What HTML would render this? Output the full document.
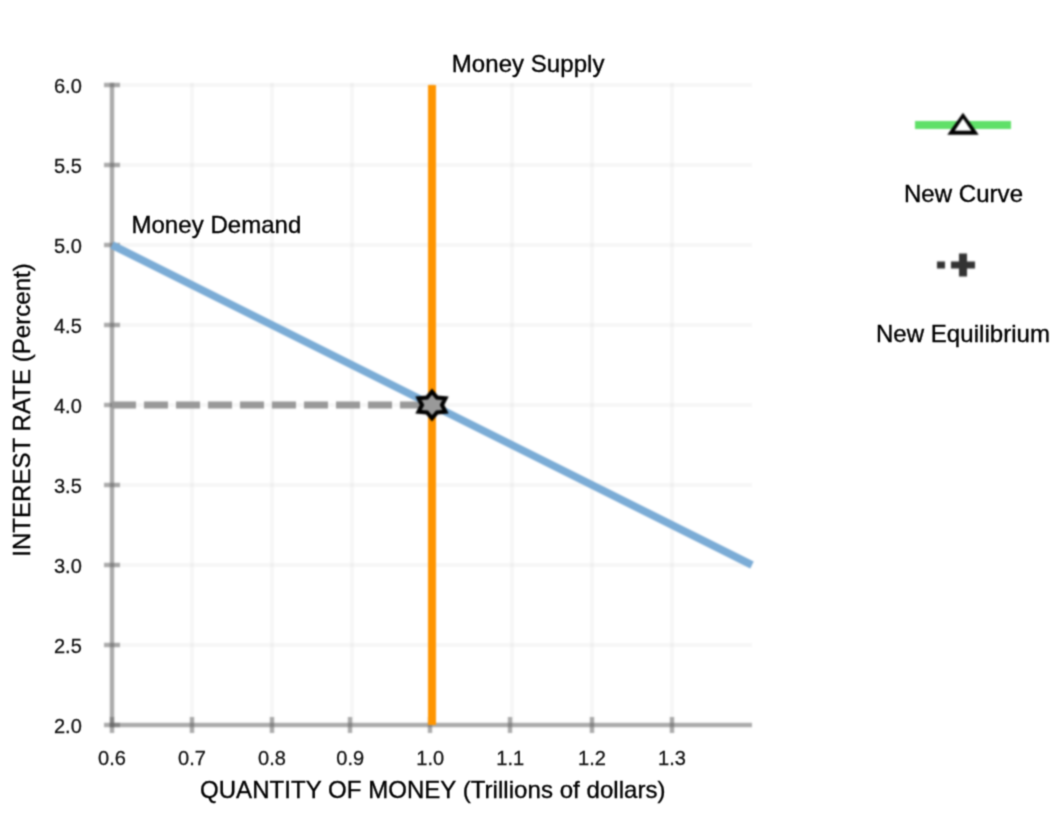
<!DOCTYPE html>
<html>
<head>
<meta charset="utf-8">
<title>Money Market</title>
<style>
html, body { margin: 0; padding: 0; background: #ffffff; }
body { width: 1054px; height: 828px; overflow: hidden; font-family: "Liberation Sans", sans-serif; }
svg { display: block; }
text { font-family: "Liberation Sans", sans-serif; }
.tk { font-size: 20px; fill: #141414; stroke: #141414; stroke-width: 0.3px; }
.lb { font-size: 24px; fill: #000000; stroke: #000000; stroke-width: 0.35px; letter-spacing: 0.05px; }
</style>
</head>
<body>
<svg width="1054" height="828" viewBox="0 0 1054 828">
<defs>
<filter id="soft" x="0" y="0" width="1054" height="828" filterUnits="userSpaceOnUse" color-interpolation-filters="sRGB"><feConvolveMatrix order="5" kernelMatrix="0.002025 0.011025 0.018900 0.011025 0.002025 0.011025 0.060025 0.102900 0.060025 0.011025 0.018900 0.102900 0.176400 0.102900 0.018900 0.011025 0.060025 0.102900 0.060025 0.011025 0.002025 0.011025 0.018900 0.011025 0.002025" divisor="1" edgeMode="duplicate" preserveAlpha="true"/></filter>
<filter id="softtext" x="0" y="0" width="1054" height="828" filterUnits="userSpaceOnUse" color-interpolation-filters="sRGB"><feConvolveMatrix order="3" kernelMatrix="0.040000 0.120000 0.040000 0.120000 0.360000 0.120000 0.040000 0.120000 0.040000" divisor="1" edgeMode="none" preserveAlpha="false"/></filter>
<clipPath id="plotclip"><rect x="100" y="60" width="652" height="680"/></clipPath>
</defs>
<rect x="0" y="0" width="1054" height="828" fill="#ffffff"/>
<g filter="url(#soft)">
<rect x="0" y="0" width="1054" height="828" fill="#ffffff"/>
<g id="grid">
<rect x="190" y="83" width="4" height="642" fill="#000" fill-opacity="0.03"/>
<rect x="270" y="83" width="4" height="642" fill="#000" fill-opacity="0.03"/>
<rect x="350" y="83" width="4" height="642" fill="#000" fill-opacity="0.03"/>
<rect x="430" y="83" width="4" height="642" fill="#000" fill-opacity="0.03"/>
<rect x="510" y="83" width="4" height="642" fill="#000" fill-opacity="0.03"/>
<rect x="590" y="83" width="4" height="642" fill="#000" fill-opacity="0.03"/>
<rect x="670" y="83" width="4" height="642" fill="#000" fill-opacity="0.03"/>
<rect x="112" y="83" width="640" height="4" fill="#000" fill-opacity="0.03"/>
<rect x="112" y="163" width="640" height="4" fill="#000" fill-opacity="0.03"/>
<rect x="112" y="243" width="640" height="4" fill="#000" fill-opacity="0.03"/>
<rect x="112" y="323" width="640" height="4" fill="#000" fill-opacity="0.03"/>
<rect x="112" y="403" width="640" height="4" fill="#000" fill-opacity="0.03"/>
<rect x="112" y="483" width="640" height="4" fill="#000" fill-opacity="0.03"/>
<rect x="112" y="563" width="640" height="4" fill="#000" fill-opacity="0.03"/>
<rect x="112" y="643" width="640" height="4" fill="#000" fill-opacity="0.03"/>
</g>
<g id="axes">
<rect x="109.8" y="82.8" width="4.4" height="644.4" fill="#666" fill-opacity="0.55"/>
<rect x="109.8" y="722.8" width="642.2" height="4.4" fill="#666" fill-opacity="0.55"/>
<rect x="104" y="82.8" width="16" height="4.4" fill="#666" fill-opacity="0.55"/>
<rect x="104" y="162.8" width="16" height="4.4" fill="#666" fill-opacity="0.55"/>
<rect x="104" y="242.8" width="16" height="4.4" fill="#666" fill-opacity="0.55"/>
<rect x="104" y="322.8" width="16" height="4.4" fill="#666" fill-opacity="0.55"/>
<rect x="104" y="402.8" width="16" height="4.4" fill="#666" fill-opacity="0.55"/>
<rect x="104" y="482.8" width="16" height="4.4" fill="#666" fill-opacity="0.55"/>
<rect x="104" y="562.8" width="16" height="4.4" fill="#666" fill-opacity="0.55"/>
<rect x="104" y="642.8" width="16" height="4.4" fill="#666" fill-opacity="0.55"/>
<rect x="104" y="722.8" width="16" height="4.4" fill="#666" fill-opacity="0.55"/>
<rect x="109.8" y="717" width="4.4" height="16" fill="#666" fill-opacity="0.55"/>
<rect x="189.8" y="717" width="4.4" height="16" fill="#666" fill-opacity="0.55"/>
<rect x="269.8" y="717" width="4.4" height="16" fill="#666" fill-opacity="0.55"/>
<rect x="347.8" y="717" width="4.4" height="16" fill="#666" fill-opacity="0.55"/>
<rect x="427.8" y="717" width="4.4" height="16" fill="#666" fill-opacity="0.55"/>
<rect x="507.8" y="717" width="4.4" height="16" fill="#666" fill-opacity="0.55"/>
<rect x="589.8" y="717" width="4.4" height="16" fill="#666" fill-opacity="0.55"/>
<rect x="669.8" y="717" width="4.4" height="16" fill="#666" fill-opacity="0.55"/>
</g>
<!-- dashed drop line -->
<line x1="112" y1="405" x2="432" y2="405" stroke="#999999" stroke-width="7" stroke-dasharray="24 8"/>
<!-- demand -->
<line x1="112" y1="245" x2="752" y2="565" stroke="#7bacd6" stroke-width="7.7"/>
<!-- supply -->
<rect x="428" y="85" width="8" height="640" fill="#ff9500"/>
<!-- equilibrium star -->
<polygon points="432.00,391.60 436.99,397.57 445.50,398.30 441.98,405.00 445.50,411.70 436.99,412.43 432.00,418.40 427.01,412.43 418.50,411.70 422.02,405.00 418.50,398.30 427.01,397.57" fill="#999999" stroke="#000000" stroke-width="4.0" stroke-linejoin="miter"/>
<!-- legend symbols -->
<rect x="915" y="121" width="96" height="8" fill="#60e068"/>
<polygon points="963,112.8 978.7,134.7 947.3,134.7" fill="#000000"/>
<polygon points="963,118.6 971.3,130.8 954.7,130.8" fill="#ffffff"/>
<rect x="937" y="261.5" width="8" height="7" fill="#333333"/>
<rect x="951" y="261.5" width="24" height="7" fill="#333333"/>
<rect x="959" y="253.5" width="8" height="23" fill="#333333"/>
</g>
<g filter="url(#softtext)">
<g id="ticklabels">
<text x="81.8" y="92.5" text-anchor="end" class="tk">6.0</text>
<text x="81.8" y="172.5" text-anchor="end" class="tk">5.5</text>
<text x="81.8" y="252.5" text-anchor="end" class="tk">5.0</text>
<text x="81.8" y="332.5" text-anchor="end" class="tk">4.5</text>
<text x="81.8" y="412.5" text-anchor="end" class="tk">4.0</text>
<text x="81.8" y="492.5" text-anchor="end" class="tk">3.5</text>
<text x="81.8" y="572.5" text-anchor="end" class="tk">3.0</text>
<text x="81.8" y="652.5" text-anchor="end" class="tk">2.5</text>
<text x="81.8" y="732.5" text-anchor="end" class="tk">2.0</text>
<text x="112" y="765" text-anchor="middle" class="tk">0.6</text>
<text x="192" y="765" text-anchor="middle" class="tk">0.7</text>
<text x="272" y="765" text-anchor="middle" class="tk">0.8</text>
<text x="350.2" y="765" text-anchor="middle" class="tk">0.9</text>
<text x="430.2" y="765" text-anchor="middle" class="tk">1.0</text>
<text x="510.2" y="765" text-anchor="middle" class="tk">1.1</text>
<text x="592" y="765" text-anchor="middle" class="tk">1.2</text>
<text x="672" y="765" text-anchor="middle" class="tk">1.3</text>
</g>
<text class="lb" x="432.8" y="798.1" text-anchor="middle">QUANTITY OF MONEY (Trillions of dollars)</text>
<text class="lb" transform="translate(30,410) rotate(-90)" text-anchor="middle">INTEREST RATE (Percent)</text>
<text class="lb" x="451.8" y="72.3">Money Supply</text>
<text class="lb" x="131.4" y="232.5">Money Demand</text>
<text class="lb" x="963.5" y="202" text-anchor="middle">New Curve</text>
<text class="lb" x="963" y="342" text-anchor="middle">New Equilibrium</text>
</g>
</svg>
</body>
</html>
